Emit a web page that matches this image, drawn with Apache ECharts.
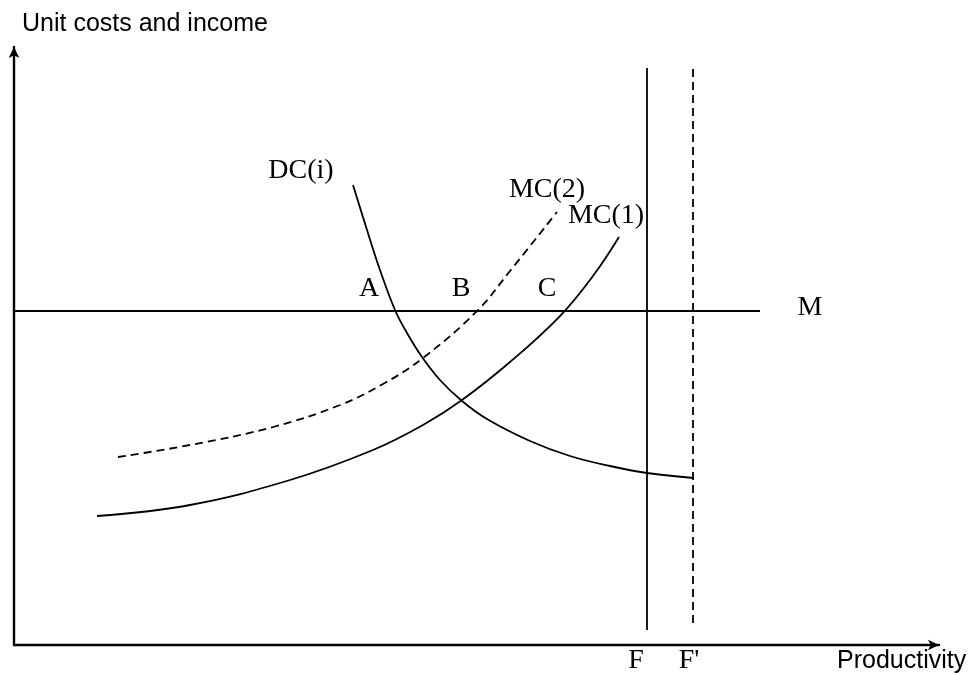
<!DOCTYPE html>
<html>
<head>
<meta charset="utf-8">
<script src="https://cdn.jsdelivr.net/npm/echarts@6/dist/echarts.min.js"></script>
<style>
  html, body { margin: 0; padding: 0; background: #fff; }
  #chart { width: 975px; height: 675px; }
</style>
</head>
<body>
<div id="chart"></div>
<script>
// points, [productivity, unit cost]
var dcCurve = [[339, 460], [353, 415], [366, 375], [381, 335], [393, 312], [408, 288], [426, 265],
  [448, 244], [473, 226], [516, 204], [556, 189], [596, 179], [633, 172], [680, 167]]
var mc1Curve = [[83, 129], [176, 140], [276, 165], [359, 195], [409, 220], [448, 245], [496, 283],
  [546, 329], [579, 369], [605, 408]]
var mc2Curve = [[104, 188], [176, 200], [259, 218], [326, 240], [369, 261], [409, 287], [463, 334],
  [496, 374], [543, 433]]
var mLine = [[0, 334], [746, 334]]
var fLine = [[633, 15], [633, 577]]
var fPrimeLine = [[679, 22], [679, 577]]
// curve / point labels
var pointLabels = [
  ['DC(i)', 287, 474],
  ['MC(2)', 533, 455],
  ['MC(1)', 592, 429],
  ['A', 355, 356],
  ['B', 447, 356],
  ['C', 533, 356],
  ['M', 796, 337],
  ['F', 622, -16],
  ["F'", 675, -16]
]

var chart = echarts.init(document.getElementById('chart'))

function lineSeries (data, dashed, smooth) {
  return {
    type: 'line',
    data: data,
    smooth: smooth ? 0.4 : false,
    symbol: 'none',
    silent: true,
    lineStyle: { color: '#000', width: 1.8, type: dashed ? [8, 5] : 'solid' }
  }
}

var option = {
  animation: false,
  grid: { left: 14, right: 36, top: 47, bottom: 30 },
  xAxis: {
    type: 'value',
    min: 0,
    max: 925,
    axisLine: {
      show: true,
      symbol: ['none', 'arrow'],
      symbolSize: [8, 11],
      lineStyle: { color: '#000', width: 2.4 }
    },
    axisTick: { show: false },
    axisLabel: { show: false },
    splitLine: { show: false }
  },
  yAxis: {
    type: 'value',
    min: 0,
    max: 598,
    axisLine: {
      show: true,
      symbol: ['none', 'arrow'],
      symbolSize: [8, 11],
      lineStyle: { color: '#000', width: 2.4 }
    },
    axisTick: { show: false },
    axisLabel: { show: false },
    splitLine: { show: false }
  },
  graphic: [
    {
      type: 'text',
      left: 22,
      top: 12,
      style: { text: 'Unit costs and income', font: '25px "Liberation Sans"', fill: '#000' }
    },
    {
      type: 'text',
      left: 837,
      top: 649,
      style: { text: 'Productivity', font: '25px "Liberation Sans"', fill: '#000' }
    }
  ],
  series: [
    lineSeries(dcCurve, false, true),
    lineSeries(mc1Curve, false, true),
    lineSeries(mc2Curve, true, true),
    lineSeries(mLine, false, false),
    lineSeries(fLine, false, false),
    lineSeries(fPrimeLine, true, false),
    {
      type: 'scatter',
      clip: false,
      silent: true,
      symbolSize: 0,
      itemStyle: { opacity: 1 },
      data: pointLabels.map(function (p) { return { name: p[0], value: [p[1], p[2]] } }),
      label: {
        show: true,
        position: 'inside',
        formatter: '{b}',
        color: '#000',
        opacity: 1,
        textBorderWidth: 0,
        fontFamily: 'Liberation Serif',
        fontSize: 28
      }
    }
  ]
}

chart.setOption(option)
</script>
</body>
</html>
